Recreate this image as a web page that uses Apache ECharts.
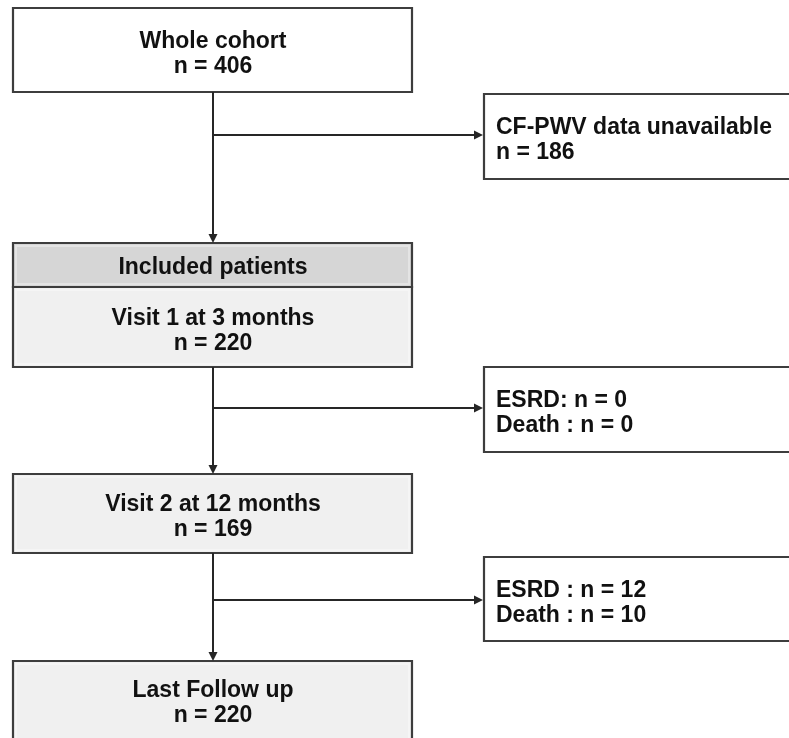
<!DOCTYPE html>
<html>
<head>
<meta charset="utf-8">
<script src="https://cdn.jsdelivr.net/npm/echarts@6/dist/echarts.min.js"></script>
<style>
  html, body { margin: 0; padding: 0; background: #fff; }
  #flow-chart { width: 789px; height: 738px; }
</style>
</head>
<body>
<div id="flow-chart"></div>
<script>
//----------------------Data----------------------
let main_stages = ['Whole cohort', 'Visit 1 at 3 months', 'Visit 2 at 12 months', 'Last Follow up'];
let main_counts = [406, 220, 169, 220];
let header_label = 'Included patients';
let exit_reasons = [
    ['CF-PWV data unavailable'],
    ['ESRD: ', 'Death : '],
    ['ESRD : ', 'Death : ']
];
let exit_counts = [
    [186],
    [0, 0],
    [12, 10]
];
//--------------------Location--------------------
let trunk_x = 213;
let left_box = {x: 13, w: 399};
let right_box = {x: 484, w: 330};
// top / bottom of each main box (index 1 has a header above it)
let main_rows = [[8, 92], [287, 367], [474, 553], [661, 760]];
let header_row = [243, 287];
let exit_rows = [[94, 179], [367, 452], [557, 641]];
let branch_y = [135, 408, 600];
let line_h = 25;
let text_dy = 3;
//----------------------Style---------------------
let font_main = 'bold 23px "Liberation Sans", Arial, sans-serif';
let border_color = '#3d3d3d';
let line_color = '#262626';
let fill_main = ['#ffffff', '#f0f0f0', '#f0f0f0', '#f0f0f0'];
let fill_header = '#d6d6d6';

let chart = echarts.init(document.getElementById('flow-chart'));
let elements = [];

function box(x, y, w, h, fill, inner) {
    elements.push({
        type: 'rect',
        shape: {x: x, y: y, width: w, height: h},
        style: {fill: fill, stroke: border_color, lineWidth: 2.2}
    });
    if (inner) {
        elements.push({
            type: 'rect',
            shape: {x: x + 3, y: y + 3, width: w - 6, height: h - 6},
            style: {fill: 'none', stroke: 'rgba(255,255,255,0.35)', lineWidth: 2}
        });
    }
}
function text(str, x, y, align) {
    elements.push({
        type: 'text',
        x: x, y: y + text_dy,
        style: {
            text: str, font: font_main, fill: '#111',
            align: align, verticalAlign: 'middle', lineHeight: line_h
        }
    });
}
function seg(x1, y1, x2, y2) {
    elements.push({
        type: 'line',
        shape: {x1: x1, y1: y1, x2: x2, y2: y2},
        style: {stroke: line_color, lineWidth: 2}
    });
}
function arrow_down(x, y) {
    elements.push({
        type: 'polygon',
        shape: {points: [[x - 4.5, y - 9], [x + 4.5, y - 9], [x, y]]},
        style: {fill: line_color}
    });
}
function arrow_right(x, y) {
    elements.push({
        type: 'polygon',
        shape: {points: [[x - 9, y - 4.5], [x - 9, y + 4.5], [x, y]]},
        style: {fill: line_color}
    });
}

// main boxes
for (let i = 0; i < main_stages.length; i++) {
    let top = main_rows[i][0], bot = main_rows[i][1];
    box(left_box.x, top, left_box.w, bot - top, fill_main[i], i > 0);
    let cy = (i === main_stages.length - 1) ? top + 39 : (top + bot) / 2 + 1;
    text(main_stages[i] + '\nn = ' + main_counts[i], trunk_x, cy, 'center');
}
// header of included patients
box(left_box.x, header_row[0], left_box.w, header_row[1] - header_row[0], fill_header, true);
text(header_label, trunk_x, (header_row[0] + header_row[1]) / 2, 'center');

// exit boxes
for (let i = 0; i < exit_reasons.length; i++) {
    let top = exit_rows[i][0], bot = exit_rows[i][1];
    box(right_box.x, top, right_box.w, bot - top, '#ffffff', false);
    let lines;
    if (exit_reasons[i].length === 1) {
        lines = [exit_reasons[i][0], 'n = ' + exit_counts[i][0]];
    } else {
        lines = exit_reasons[i].map(function (r, k) { return r + 'n = ' + exit_counts[i][k]; });
    }
    text(lines.join('\n'), right_box.x + 12, (top + bot) / 2 + 1, 'left');
}

// connectors
let tops = [header_row[0], main_rows[2][0], main_rows[3][0]];
let bots = [main_rows[0][1], main_rows[1][1], main_rows[2][1]];
for (let i = 0; i < 3; i++) {
    seg(trunk_x, bots[i], trunk_x, tops[i] - 6);
    arrow_down(trunk_x, tops[i]);
    seg(trunk_x, branch_y[i], right_box.x - 6, branch_y[i]);
    arrow_right(right_box.x - 1, branch_y[i]);
}

let option = {
    backgroundColor: '#ffffff',
    graphic: {elements: elements}
};
chart.setOption(option, true);
</script>
</body>
</html>
